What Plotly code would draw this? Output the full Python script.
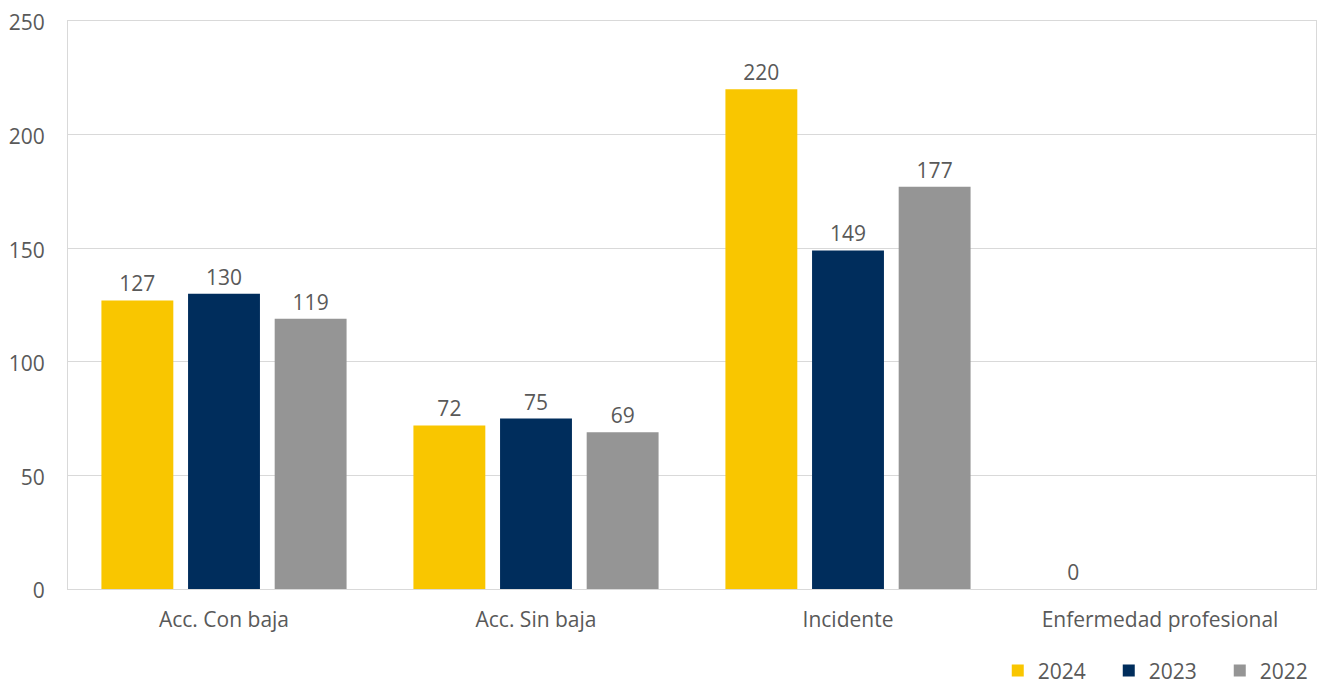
import plotly.graph_objects as go

categories = ["Acc. Con baja", "Acc. Sin baja", "Incidente", "Enfermedad profesional"]
years = ["2024", "2023", "2022"]
values_2024 = [127, 72, 220, 0]
values_2023 = [130, 75, 149, None]
values_2022 = [119, 69, 177, None]
y_ticks = [0, 50, 100, 150, 200, 250]

colors = {"2024": "#F9C600", "2023": "#002D5C", "2022": "#959595"}
series = {"2024": values_2024, "2023": values_2023, "2022": values_2022}

FONT = "Open Sans, Noto Sans, sans-serif"
TXT = "#595959"
FS = 21

fig = go.Figure()
for yr in years:
    vals = series[yr]
    fig.add_trace(go.Bar(
        x=categories, y=vals, name=yr,
        marker=dict(color=colors[yr], line=dict(width=0)),
        text=[("" if v is None else str(v)) for v in vals],
        textposition="outside",
        textfont=dict(family=FONT, size=FS, color=TXT),
        cliponaxis=False,
    ))

# page body has an 8px margin, so the figure is sized to fill the rest of the window
fig.update_layout(
    width=1317, height=678,
    margin=dict(l=60, r=9, t=13, b=97, autoexpand=False),
    paper_bgcolor="white", plot_bgcolor="white",
    barmode="group", bargap=0.167, bargroupgap=0.17,
    font=dict(family=FONT, size=FS, color=TXT),
    showlegend=True,
    legend=dict(orientation="h", x=0.745, xanchor="left", y=-0.108, yanchor="top",
                font=dict(family=FONT, size=FS, color=TXT),
                itemwidth=30, entrywidth=66, entrywidthmode="pixels",
                traceorder="normal", itemclick=False),
)
fig.update_xaxes(showgrid=False, showline=True, linecolor="#D9D9D9", linewidth=1, mirror=True,
                 automargin=False, ticklabeloverflow="allow",
                 tickfont=dict(family=FONT, size=FS, color=TXT), ticks="", ticklabelstandoff=12)
fig.update_yaxes(range=[0, 250], tickvals=y_ticks, showgrid=True, gridcolor="#D9D9D9", gridwidth=1,
                 showline=True, linecolor="#D9D9D9", linewidth=1, mirror=True, zeroline=False,
                 automargin=False, ticklabeloverflow="allow", ticklabelshift=2,
                 tickfont=dict(family=FONT, size=FS, color=TXT), ticks="", ticklabelstandoff=18)

fig.write_html("out.html")
